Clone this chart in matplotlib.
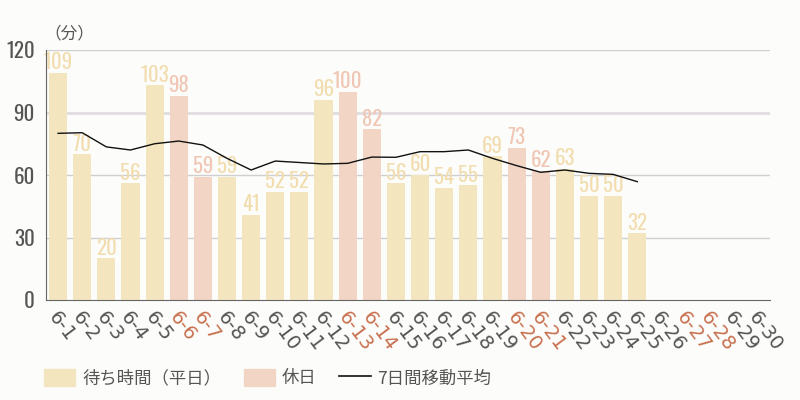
import numpy as np
import matplotlib
matplotlib.use("Agg")
import matplotlib.pyplot as plt
import matplotlib.transforms as mtransforms
from matplotlib.patches import Patch
from matplotlib.lines import Line2D

plt.rcParams['font.family'] = ['Noto Sans CJK JP', 'DejaVu Sans']
num_font = ['Oswald', 'Barlow Condensed', 'DejaVu Sans']

# data
days = ["6-%d" % d for d in range(1, 31)]
holidays = ["6-6", "6-7", "6-13", "6-14", "6-20", "6-21", "6-27", "6-28"]
wait = [109, 70, 20, 56, 103, 98, 59, 59, 41, 52, 52, 96, 100, 82,
        56, 60, 54, 55, 69, 73, 62, 63, 50, 50, 32]
moving_avg = [80, 80.3, 73.5, 72, 75, 76.3, 74.4, 68, 62.4, 66.7, 66, 65.3,
              65.6, 68.6, 68.5, 71.2, 71.2, 72, 68, 64.5, 61.3, 62.4,
              60.8, 60.3, 56.8]

c_week = "#F3E5BE"
c_hol = "#F3D5C6"
c_week_txt = "#F2DDB0"
c_hol_txt = "#F0C6B4"
c_hol_tick = "#C8704F"
c_gray = "#555555"
bg = "#FCFDFA"

fig = plt.figure(figsize=(8, 4), dpi=100, facecolor=bg)
ax = fig.add_axes([0.0575, 0.25, 0.905, 0.625], facecolor=bg)

x = np.arange(len(days))
xw = x[:len(wait)]
is_hol = [days[i] in holidays for i in range(len(wait))]
colors = [c_hol if h else c_week for h in is_hol]
ax.bar(xw, wait, width=0.75, color=colors, zorder=2)

for xi, v, h in zip(xw, wait, is_hol):
    ax.text(xi, v + 0.3, str(v), ha='center', va='bottom',
            fontsize=15, color=c_hol_txt if h else c_week_txt,
            family=num_font, zorder=3)

ax.plot(xw, moving_avg, color="#111111", lw=1.0, zorder=4)

ax.set_xlim(-0.5, len(days) - 0.5)
ax.set_ylim(0, 120)
ax.set_yticks([0, 30, 60, 90, 120])
for yv in [30, 60, 120]:
    ax.axhline(yv, color="#CFCFCF", lw=1, zorder=1)
ax.axhline(90, color="#E0DCE0", lw=2, zorder=1)

for s in ['top', 'right']:
    ax.spines[s].set_visible(False)
ax.spines['left'].set_color("#666666")
ax.spines['bottom'].set_color("#666666")
ax.spines['left'].set_zorder(5)
ax.tick_params(length=0)
ax.tick_params(axis='y', pad=8)

for lab in ax.get_yticklabels():
    lab.set_fontsize(15)
    lab.set_color(c_gray)
    lab.set_family(num_font)

ax.set_xticks(x)
ax.set_xticklabels(days, rotation=-53, ha='left', va='center',
                   rotation_mode='anchor', fontsize=14,
                   family='DejaVu Sans')
ax.tick_params(axis='x', pad=10)
shift = mtransforms.ScaledTranslation(-6 / 100, 0, fig.dpi_scale_trans)
for lab, d in zip(ax.get_xticklabels(), days):
    lab.set_color(c_hol_tick if d in holidays else c_gray)
    lab.set_transform(lab.get_transform() + shift)

fig.text(0.055, 0.893, "（分）", fontsize=12, color=c_gray, ha='left', va='bottom')

handles = [Patch(color=c_week, label="待ち時間（平日）"),
           Patch(color=c_hol, label="休日"),
           Line2D([0], [0], color="#111111", lw=1.2, label="7日間移動平均")]
fig.legend(handles=handles, loc='center left', bbox_to_anchor=(0.055, 0.055),
           ncol=3, frameon=False, fontsize=12.5, handlelength=1.8,
           handleheight=1.2, handletextpad=0.4, columnspacing=1.3,
           labelcolor=c_gray, borderpad=0, borderaxespad=0)

fig.savefig("out.png", dpi=100, facecolor=bg)
